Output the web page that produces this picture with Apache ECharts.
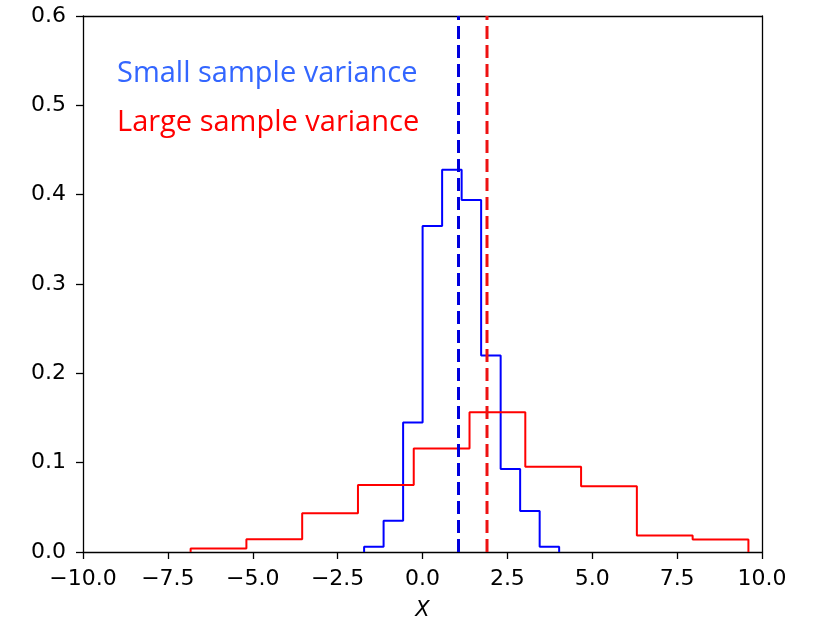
<!DOCTYPE html>
<html>
<head>
<meta charset="utf-8">
<script src="https://cdn.jsdelivr.net/npm/echarts@6/dist/echarts.min.js"></script>
<style>html,body{margin:0;padding:0;background:#fff}#c{width:815px;height:626px}</style>
</head>
<body>
<div id="c"></div>
<script>
// Small-variance histogram (density), bin edges and heights
const smallEdges = [-1.72, -1.146, -0.571, 0.003, 0.578, 1.153, 1.727, 2.302, 2.876, 3.451, 4.025];
const smallDensity = [0.006, 0.035, 0.145, 0.365, 0.428, 0.394, 0.220, 0.093, 0.046, 0.006];
// Large-variance histogram (density)
const largeEdges = [-6.83, -5.187, -3.544, -1.901, -0.258, 1.385, 3.028, 4.671, 6.314, 7.957, 9.6];
const largeDensity = [0.0038, 0.0144, 0.0433, 0.0751, 0.1159, 0.1565, 0.0954, 0.0737, 0.0185, 0.0141];
// Sample means (dashed lines)
const smallMean = 1.06;
const largeMean = 1.9;
const xTicks = [-10, -7.5, -5, -2.5, 0, 2.5, 5, 7.5, 10];
const yTicks = [0, 0.1, 0.2, 0.3, 0.4, 0.5, 0.6];
const labels = ['Small sample variance', 'Large sample variance'];

function stepPoints(edges, vals) {
  const pts = [[edges[0], 0]];
  for (let i = 0; i < vals.length; i++) {
    pts.push([edges[i], vals[i]]);
    pts.push([edges[i + 1], vals[i]]);
  }
  pts.push([edges[edges.length - 1], 0]);
  return pts;
}
const fmt = v => (v < 0 ? '\u2212' + Math.abs(v).toFixed(1) : v.toFixed(1));
const font = 'DejaVu Sans';

const chart = echarts.init(document.getElementById('c'), null, {renderer: 'canvas'});
chart.setOption({
  animation: false,
  grid: {left: 83, right: 53, top: 16, bottom: 69.5, containLabel: false},
  xAxis: [{
    type: 'value', min: -10, max: 10, interval: 2.5,
    axisLine: {show: true, onZero: false, lineStyle: {color: '#000', width: 1.3}},
    axisTick: {show: true, length: 7, lineStyle: {color: '#000', width: 1.3}},
    axisLabel: {color: '#000', fontFamily: font, fontSize: 22, margin: 16, formatter: fmt},
    splitLine: {show: false},
    name: 'X', nameLocation: 'middle', nameGap: 48,
    nameTextStyle: {color: '#000', fontFamily: font, fontSize: 21, fontStyle: 'italic'}
  }, {
    type: 'value', position: 'top', min: -10, max: 10,
    axisLine: {show: true, onZero: false, lineStyle: {color: '#000', width: 1.3}},
    axisTick: {show: false}, axisLabel: {show: false}, splitLine: {show: false}
  }],
  yAxis: [{
    type: 'value', min: 0, max: 0.6, interval: 0.1,
    axisLine: {show: true, onZero: false, lineStyle: {color: '#000', width: 1.3}},
    axisTick: {show: true, length: 7, lineStyle: {color: '#000', width: 1.3}},
    axisLabel: {color: '#000', fontFamily: font, fontSize: 22, margin: 17, formatter: v => v.toFixed(1)},
    splitLine: {show: false}
  }, {
    type: 'value', position: 'right', min: 0, max: 0.6,
    axisLine: {show: true, onZero: false, lineStyle: {color: '#000', width: 1.3}},
    axisTick: {show: false}, axisLabel: {show: false}, splitLine: {show: false}
  }],
  series: [{
    type: 'line', data: stepPoints(smallEdges, smallDensity), symbol: 'none',
    lineStyle: {color: '#0000ff', width: 2}, z: 3
  }, {
    type: 'line', data: stepPoints(largeEdges, largeDensity), symbol: 'none',
    lineStyle: {color: '#ff0000', width: 2}, z: 3
  }, {
    type: 'line', data: [[smallMean, 0], [smallMean, 0.6]], symbol: 'none',
    lineStyle: {color: '#0000dd', width: 3, type: [13, 6]}, z: 4
  }, {
    type: 'line', data: [[largeMean, 0], [largeMean, 0.6]], symbol: 'none',
    lineStyle: {color: '#ee1111', width: 3, type: [13, 6]}, z: 4
  }],
  graphic: [{
    type: 'text', left: 117, top: 59,
    style: {text: labels[0], fill: '#3366ff', font: '29px "Open Sans"'}
  }, {
    type: 'text', left: 117, top: 108,
    style: {text: labels[1], fill: '#ff0000', font: '29px "Open Sans"'}
  }]
});
</script>
</body>
</html>
